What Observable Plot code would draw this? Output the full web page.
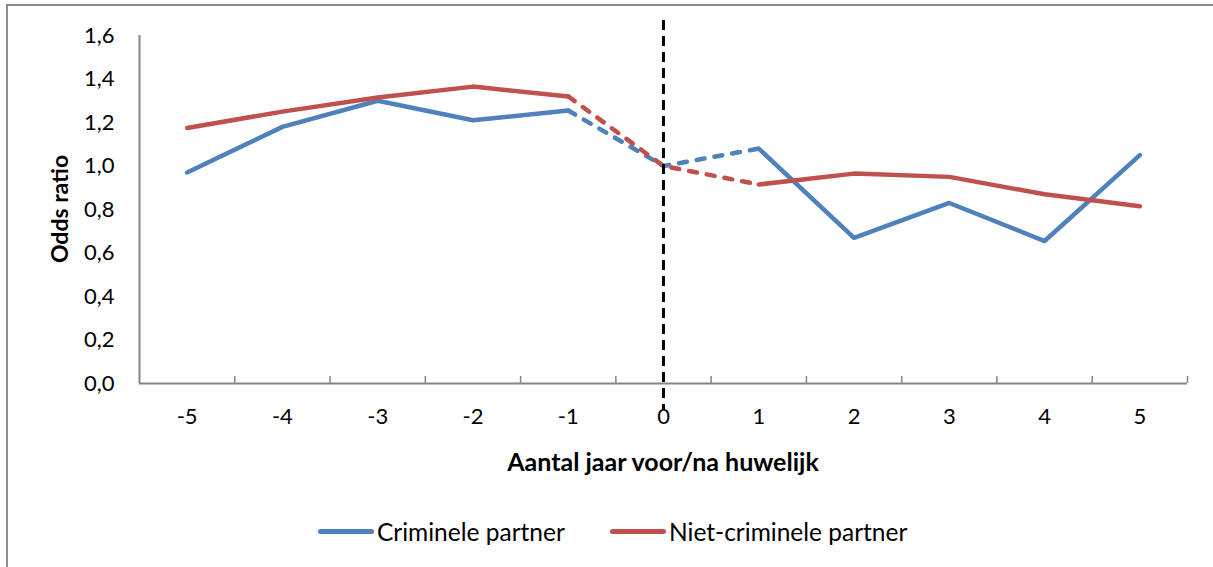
<!DOCTYPE html>
<html>
<head>
<meta charset="utf-8">
<script src="https://cdn.jsdelivr.net/npm/d3@7"></script>
<script src="https://cdn.jsdelivr.net/npm/@observablehq/plot@0.6"></script>
<style>
  html, body { margin: 0; padding: 0; background: #fff; }
  #wrap { position: relative; width: 1213px; height: 567px; overflow: hidden; font-family: Lato, "Open Sans", sans-serif; }
  #frame { position: absolute; left: 6px; top: 4px; right: -10px; bottom: -10px; border-left: 2px solid #8c8c8c; border-top: 2px solid #8c8c8c; pointer-events: none; }
  #chart { position: absolute; left: 0; top: 0; }
  #legend { position: absolute; left: 0; top: 500px; width: 1213px; height: 67px; }
  .item { position: absolute; top: 17px; display: flex; align-items: center; font-size: 24.5px; color: #000; }
  .sw { width: 56px; height: 5px; border-radius: 3px; margin-right: 3px; }
</style>
</head>
<body>
<div id="wrap">
  <div id="chart"></div>
  <div id="legend"></div>
  <div id="frame"></div>
</div>
<script>
// ---- data ----
const years = [-5, -4, -3, -2, -1, 0, 1, 2, 3, 4, 5];
const criminele = [0.97, 1.18, 1.30, 1.21, 1.255, 1.00, 1.08, 0.67, 0.83, 0.655, 1.05];
const nietCriminele = [1.175, 1.25, 1.315, 1.365, 1.32, 1.00, 0.915, 0.965, 0.95, 0.87, 0.815];
const seriesNames = ["Criminele partner", "Niet-criminele partner"];
const seriesColors = ["#4F81BD", "#C0504D"];
const yTicks = [0, 0.2, 0.4, 0.6, 0.8, 1.0, 1.2, 1.4, 1.6];
const xTitle = "Aantal jaar voor/na huwelijk";
const yTitle = "Odds ratio";
const markerYear = 0;

// ---- build rows ----
const seriesValues = [criminele, nietCriminele];
const solidRows = [];
const dashedRows = [];
seriesNames.forEach((name, s) => {
  years.forEach((yr, i) => {
    const row = {series: name, year: yr, value: seriesValues[s][i]};
    if (yr <= -1) solidRows.push({...row, seg: "pre"});
    if (yr >= 1) solidRows.push({...row, seg: "post"});
    if (yr >= -1 && yr <= 1) dashedRows.push({...row, seg: "mid"});
  });
});
const boundaries = years.map(y => y + 0.5);
const xDomain = [years[0] - 0.5, years[years.length - 1] + 0.5];
const fmt = d => d.toFixed(1).replace(".", ",");

const W = 1213, H = 500;
const mTop = 35, mBottom = 117, mLeft = 139, mRight = 26;
const axisGray = "#868686";

const chart = Plot.plot({
  width: W,
  height: H,
  marginTop: mTop,
  marginBottom: mBottom,
  marginLeft: mLeft,
  marginRight: mRight,
  style: {fontFamily: "Lato, 'Open Sans', sans-serif", fontSize: "22px", background: "transparent", color: "#000"},
  x: {domain: xDomain},
  y: {domain: [yTicks[0], yTicks[yTicks.length - 1]]},
  color: {domain: seriesNames, range: seriesColors},
  marks: [
    Plot.axisY({ticks: yTicks, tickFormat: fmt, tickSize: 0, tickPadding: 25, label: null, fontSize: 22}),
    Plot.axisX({ticks: years, tickFormat: d => String(d), tickSize: 0, tickPadding: 25, label: null, fontSize: 22}),
    Plot.ruleX(boundaries, {stroke: axisGray, strokeWidth: 1.5, insetTop: H - mTop - mBottom - 7}),
    Plot.ruleY([yTicks[0]], {stroke: axisGray, strokeWidth: 2}),
    Plot.ruleX([xDomain[0]], {stroke: axisGray, strokeWidth: 2}),
    Plot.line(solidRows, {x: "year", y: "value", z: d => d.series + d.seg, stroke: "series", strokeWidth: 4.5, strokeLinejoin: "round", strokeLinecap: "round"}),
    Plot.line(dashedRows, {x: "year", y: "value", z: "series", stroke: "series", strokeWidth: 4.5, strokeDasharray: "8,10", strokeLinecap: "round", strokeLinejoin: "round"}),
    Plot.ruleX([markerYear], {stroke: "#000", strokeWidth: 3, strokeDasharray: "10,6", insetTop: -15, insetBottom: -27})
  ]
});
document.getElementById("chart").appendChild(chart);

// axis titles
const svg = d3.select(chart);
svg.append("text")
  .attr("x", mLeft + (W - mLeft - mRight) / 2)
  .attr("y", 471)
  .attr("text-anchor", "middle")
  .attr("font-weight", "bold")
  .attr("font-size", 25)
  .attr("fill", "#000")
  .text(xTitle);
svg.append("text")
  .attr("transform", `translate(68, ${mTop + (H - mTop - mBottom) / 2}) rotate(-90)`)
  .attr("text-anchor", "middle")
  .attr("font-weight", "bold")
  .attr("font-size", 23)
  .attr("fill", "#000")
  .text(yTitle);

// legend
const legend = document.getElementById("legend");
const legendLeft = [318, 610];
seriesNames.forEach((name, i) => {
  const item = document.createElement("div");
  item.className = "item";
  item.style.left = legendLeft[i] + "px";
  const sw = document.createElement("div");
  sw.className = "sw";
  sw.style.background = seriesColors[i];
  const t = document.createElement("span");
  t.textContent = name;
  item.appendChild(sw);
  item.appendChild(t);
  legend.appendChild(item);
});
</script>
</body>
</html>
